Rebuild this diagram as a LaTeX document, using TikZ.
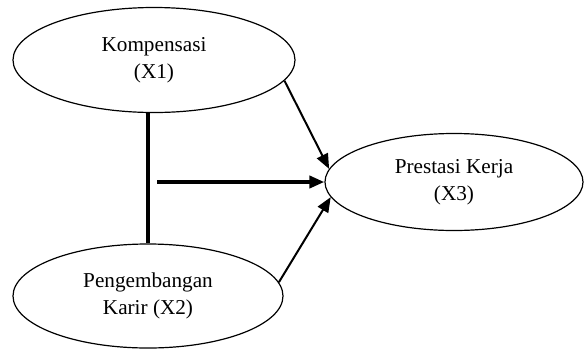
\documentclass[tikz,border=0pt]{standalone}
\usepackage{fontspec}
\setmainfont{Liberation Serif}
\usetikzlibrary{shapes.geometric,positioning,arrows.meta}

\begin{document}
\begin{tikzpicture}[
    x=0.5pt, y=-0.5pt,
    latent/.style={ellipse, draw, line width=0.6pt, inner sep=0pt, align=center,
        font=\fontsize{10.6}{13.5}\selectfont},
    arrow/.style={-{Triangle[length=7.5pt,width=6pt]}, line width=1pt},
    heavy/.style={line width=2.2pt},
]
\useasboundingbox (0,0) rectangle (584,349);

% Variables
\node[latent, minimum width=141pt, minimum height=52.5pt] (komp) at (154,60) {Kompensasi\\(X1)};
\node[latent, minimum width=135pt, minimum height=52pt] (karir) at (148,296) {Pengembangan\\Karir (X2)};
\node[latent, minimum width=129pt, minimum height=48.5pt] (kerja) at (454,182) {Prestasi Kerja\\(X3)};

% Joint effect
\draw[heavy] (karir.north |- komp.south) -- (karir.north);
\coordinate (joint) at (157,182);
\draw[arrow, heavy] (joint) -- (kerja.west);

% Partial effects
\draw[arrow] (komp.-9) -- (kerja.174);
\draw[arrow] (karir.6) -- (kerja.187);

\end{tikzpicture}
\end{document}
